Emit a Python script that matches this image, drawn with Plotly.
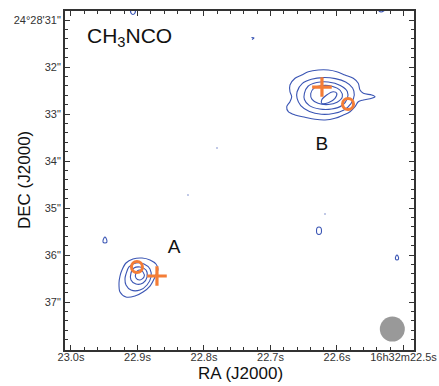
import plotly.graph_objects as go

# ---------------- data (RA in seconds of 16h32m, DEC in arcsec of 24°28') ----------------
x_tickvals = [23.0, 22.9, 22.8, 22.7, 22.6, 22.5]
x_ticktext = ["23.0s", "22.9s", "22.8s", "22.7s", "22.6s", "16h32m22.5s"]
y_tickvals = [31, 32, 33, 34, 35, 36, 37]
y_ticktext = ["24°28'31\"", "32\"", "33\"", "34\"", "35\"", "36\"", "37\""]

# Source B contours (outer -> inner)
B1_ra = [22.6707, 22.6631, 22.6531, 22.6431, 22.6281, 22.6131, 22.6004, 22.5880, 22.5755, 22.5680,
         22.5654, 22.5604, 22.5478, 22.5428, 22.5478, 22.5604, 22.5680, 22.5729, 22.5804, 22.5905,
         22.6030, 22.6180, 22.6331, 22.6481, 22.6631, 22.6732, 22.6756, 22.6707, 22.6681, 22.6707]
B1_dec = [32.383, 32.240, 32.170, 32.100, 32.064, 32.064, 32.100, 32.170, 32.240, 32.347,
          32.489, 32.560, 32.596, 32.632, 32.666, 32.702, 32.738, 32.845, 32.951, 33.021,
          33.092, 33.128, 33.113, 33.070, 33.021, 32.951, 32.845, 32.738, 32.632, 32.526]
B2_ra = [22.6600, 22.6520, 22.6385, 22.6206, 22.6025, 22.5870, 22.5765, 22.5740, 22.5790, 22.5895,
         22.6056, 22.6235, 22.6415, 22.6545, 22.6600]
B2_dec = [32.526, 32.350, 32.262, 32.225, 32.248, 32.320, 32.445, 32.596, 32.780, 32.915,
          32.990, 33.005, 32.945, 32.820, 32.670]
B3_ra = [22.6490, 22.6435, 22.6305, 22.6131, 22.5950, 22.5845, 22.5845, 22.5925, 22.6080, 22.6260,
         22.6415, 22.6490]
B3_dec = [32.560, 32.410, 32.330, 32.318, 32.392, 32.520, 32.672, 32.820, 32.895, 32.895,
          32.822, 32.692]
B4_ra = [22.6395, 22.6345, 22.6225, 22.6075, 22.5950, 22.5920, 22.5998, 22.6131, 22.6285, 22.6375]
B4_dec = [32.565, 32.448, 32.395, 32.410, 32.500, 32.635, 32.748, 32.798, 32.772, 32.690]
B5_ra = [22.6230, 22.6155, 22.6056, 22.6004, 22.6030, 22.6131, 22.6230]
B5_dec = [32.702, 32.596, 32.526, 32.560, 32.666, 32.760, 32.772]

# Source A contours (outer -> inner)
A1_ra = [22.9233, 22.9173, 22.9068, 22.8932, 22.8812, 22.8722, 22.8692, 22.8737, 22.8812, 22.8917,
         22.9038, 22.9173, 22.9263, 22.9278, 22.9263]
A1_dec = [36.319, 36.170, 36.085, 36.064, 36.106, 36.191, 36.298, 36.468, 36.660, 36.787,
          36.872, 36.894, 36.787, 36.596, 36.447]
A2_ra = [22.9173, 22.9128, 22.9023, 22.8902, 22.8812, 22.8797, 22.8857, 22.8962, 22.9098, 22.9173, 22.9188]
A2_dec = [36.404, 36.255, 36.170, 36.191, 36.298, 36.468, 36.638, 36.745, 36.745, 36.638, 36.511]
A3_ra = [22.9098, 22.9053, 22.8962, 22.8872, 22.8857, 22.8917, 22.9023, 22.9098]
A3_dec = [36.383, 36.277, 36.255, 36.319, 36.468, 36.596, 36.617, 36.532]
A4_ra = [22.9023, 22.8977, 22.8917, 22.8902, 22.8962, 22.9023]
A4_dec = [36.383, 36.319, 36.362, 36.468, 36.532, 36.489]

# Small noise contours
n1_ra = [22.9519, 22.9504, 22.9489, 22.9474, 22.9459, 22.9489]
n1_dec = [35.723, 35.638, 35.617, 35.638, 35.723, 35.745]
n2_ra = [22.6308, 22.6301, 22.6271, 22.6241, 22.6233, 22.6241, 22.6271, 22.6301]
n2_dec = [35.489, 35.426, 35.404, 35.426, 35.489, 35.543, 35.564, 35.543]
n3_ra = [22.5120, 22.5113, 22.5098, 22.5083, 22.5075, 22.5098]
n3_dec = [36.085, 36.021, 36.000, 36.021, 36.085, 36.106]
n4_ra = [22.9105, 22.9098, 22.9068, 22.9038, 22.9030]
n4_dec = [30.787, 30.851, 30.883, 30.851, 30.787]
n5_ra = [22.7286, 22.7248, 22.7278]
n5_dec = [31.372, 31.383, 31.415]
n6_ra = [22.5383, 22.5338, 22.5278]
n6_dec = [30.787, 30.830, 30.787]
dots_ra = [22.7812, 22.7797, None, 22.8248, 22.8233, None, 22.6188, 22.6173]
dots_dec = [33.719, 33.728, None, 34.719, 34.728, None, 35.123, 35.132]

# Markers
plus_ra = [22.6226, 22.8707]
plus_dec = [32.426, 36.447]
circ_ra = [22.5834, 22.9008]
circ_dec = [32.787, 36.255]

# Labels
label_text = ["A", "B"]
label_ra = [22.8451, 22.6226]
label_dec = [35.862, 33.66]

beam_ra = [22.5168]
beam_dec = [37.575]

# ---------------- figure ----------------
BLUE = "#3a55b4"
ORANGE = "#f47d36"
fig = go.Figure()

closed = [(B1_ra, B1_dec), (B2_ra, B2_dec), (B3_ra, B3_dec), (B4_ra, B4_dec), (B5_ra, B5_dec),
          (A1_ra, A1_dec), (A2_ra, A2_dec), (A3_ra, A3_dec), (A4_ra, A4_dec),
          (n1_ra, n1_dec), (n2_ra, n2_dec), (n3_ra, n3_dec)]
for rx, dy in closed:
    fig.add_trace(go.Scatter(x=rx + rx[:1], y=dy + dy[:1], mode="lines",
                             line=dict(color=BLUE, width=1.1, shape="spline", smoothing=0.9),
                             hoverinfo="skip", showlegend=False))
for rx, dy in [(n4_ra, n4_dec), (n5_ra, n5_dec), (n6_ra, n6_dec), (dots_ra, dots_dec)]:
    fig.add_trace(go.Scatter(x=rx, y=dy, mode="lines",
                             line=dict(color=BLUE, width=1.2, shape="spline"),
                             hoverinfo="skip", showlegend=False))

fig.add_trace(go.Scatter(x=plus_ra, y=plus_dec, mode="markers",
                         marker=dict(symbol="cross-thin", size=14,
                                     line=dict(color=ORANGE, width=3.2)),
                         hoverinfo="skip", showlegend=False))
fig.add_trace(go.Scatter(x=circ_ra, y=circ_dec, mode="markers",
                         marker=dict(symbol="circle-open", size=11,
                                     line=dict(color=ORANGE, width=3), color=ORANGE),
                         hoverinfo="skip", showlegend=False))
fig.add_trace(go.Scatter(x=beam_ra, y=beam_dec, mode="markers",
                         marker=dict(symbol="circle", size=25, color="#999999",
                                     line=dict(width=0)),
                         hoverinfo="skip", showlegend=False))
fig.add_trace(go.Scatter(x=label_ra, y=label_dec, mode="text", text=label_text,
                         textfont=dict(family="Liberation Sans, Arial", size=19, color="#111111"),
                         hoverinfo="skip", showlegend=False))

fig.add_annotation(x=22.979, y=31.36, xref="x", yref="y", text="CH<sub>3</sub>NCO",
                   showarrow=False, xanchor="left", yanchor="middle",
                   font=dict(family="Liberation Sans, Arial", size=21, color="#111111"))
fig.add_annotation(x=-0.1146, y=0.5015, xref="paper", yref="paper", text="DEC (J2000)",
                   textangle=-90, showarrow=False, xanchor="center", yanchor="middle",
                   font=dict(family="Liberation Sans, Arial", size=17, color="#111111"))
fig.add_annotation(x=0.504, y=-0.068, xref="paper", yref="paper", text="RA (J2000)",
                   showarrow=False, xanchor="center", yanchor="middle",
                   font=dict(family="Liberation Sans, Arial", size=17, color="#111111"))

axis_common = dict(showgrid=False, zeroline=False, showline=True, linecolor="#333333",
                   linewidth=2, mirror="allticks", ticks="inside", ticklen=5, tickwidth=1,
                   tickcolor="#333333", automargin=False,
                   tickfont=dict(family="Liberation Sans, Arial", size=11, color="#333333"))

fig.update_xaxes(range=[23.009, 22.4842], tickmode="array", tickvals=x_tickvals,
                 ticktext=x_ticktext, ticklabelstandoff=-4,
                 minor=dict(ticks="inside", ticklen=3, dtick=0.02, tick0=22.5,
                            tickcolor="#333333"),
                 **axis_common)
fig.update_yaxes(range=[38.021, 30.8085], tickmode="array", tickvals=y_tickvals,
                 ticktext=y_ticktext,
                 minor=dict(ticks="inside", ticklen=3, dtick=0.2, tick0=31,
                            tickcolor="#333333"),
                 **axis_common)

fig.update_layout(width=439, height=386, margin=dict(l=65, r=25, t=11, b=36),
                  plot_bgcolor="white", paper_bgcolor="white", showlegend=False,
                  hovermode=False)

fig.write_html("out.html", config={"displayModeBar": False},
               post_script="document.body.style.margin='0';document.body.style.overflow='hidden';")
